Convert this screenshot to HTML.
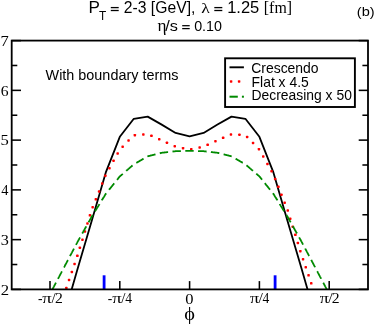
<!DOCTYPE html>
<html><head><meta charset="utf-8"><style>
html,body{margin:0;padding:0;background:#fff;}
body{width:374px;height:325px;overflow:hidden;}
svg{display:block;will-change:transform;}
text{font-kerning:none;}
.sans{font-family:"Liberation Sans",sans-serif;}
.serif{font-family:"Liberation Serif",serif;}
</style></head><body>
<svg width="374" height="325" viewBox="0 0 374 325">
<rect width="374" height="325" fill="#fff"/>
<defs><clipPath id="c"><rect x="11.7" y="40.6" width="356.3" height="248.79999999999998"/></clipPath></defs>
<g clip-path="url(#c)" fill="none" stroke-linejoin="round">
<polyline points="64.0,316.0 77.9,267.8 91.9,220.2 105.8,172.4 119.8,136.8 133.8,118.8 147.7,116.6 161.7,124.6 175.6,132.9 189.6,136.3 203.6,132.9 217.5,124.6 231.5,116.6 245.4,118.8 259.4,136.8 273.4,172.4 287.3,220.2 301.3,267.8 315.2,316.0" stroke="#000" stroke-width="1.8"/>
<g fill="#ff0000"><rect x="55.1" y="299.7" width="2.5" height="2.5" rx="0.7"/><rect x="61.8" y="294.5" width="2.5" height="2.5" rx="0.7"/><rect x="65.1" y="286.8" width="2.5" height="2.5" rx="0.7"/><rect x="67.8" y="278.8" width="2.5" height="2.5" rx="0.7"/><rect x="70.6" y="270.7" width="2.5" height="2.5" rx="0.7"/><rect x="73.3" y="262.7" width="2.5" height="2.5" rx="0.7"/><rect x="76.1" y="254.6" width="2.5" height="2.5" rx="0.7"/><rect x="78.6" y="246.5" width="2.5" height="2.5" rx="0.7"/><rect x="81.2" y="238.4" width="2.5" height="2.5" rx="0.7"/><rect x="83.7" y="230.3" width="2.5" height="2.5" rx="0.7"/><rect x="86.2" y="222.2" width="2.5" height="2.5" rx="0.7"/><rect x="88.7" y="214.1" width="2.5" height="2.5" rx="0.7"/><rect x="91.4" y="206.0" width="2.5" height="2.5" rx="0.7"/><rect x="94.6" y="198.1" width="2.5" height="2.5" rx="0.7"/><rect x="97.8" y="190.2" width="2.5" height="2.5" rx="0.7"/><rect x="101.0" y="182.3" width="2.5" height="2.5" rx="0.7"/><rect x="104.1" y="174.5" width="2.5" height="2.5" rx="0.7"/><rect x="108.2" y="167.0" width="2.5" height="2.5" rx="0.7"/><rect x="112.3" y="159.5" width="2.5" height="2.5" rx="0.7"/><rect x="116.4" y="152.2" width="2.5" height="2.5" rx="0.7"/><rect x="121.4" y="145.4" width="2.5" height="2.5" rx="0.7"/><rect x="127.3" y="139.3" width="2.5" height="2.5" rx="0.7"/><rect x="133.6" y="133.9" width="2.5" height="2.5" rx="0.7"/><rect x="142.1" y="133.3" width="2.5" height="2.5" rx="0.7"/><rect x="150.2" y="134.6" width="2.5" height="2.5" rx="0.7"/><rect x="158.0" y="138.0" width="2.5" height="2.5" rx="0.7"/><rect x="165.7" y="141.5" width="2.5" height="2.5" rx="0.7"/><rect x="173.5" y="145.0" width="2.5" height="2.5" rx="0.7"/><rect x="181.8" y="146.9" width="2.5" height="2.5" rx="0.7"/><rect x="190.0" y="147.9" width="2.5" height="2.5" rx="0.7"/><rect x="198.4" y="146.2" width="2.5" height="2.5" rx="0.7"/><rect x="206.4" y="143.6" width="2.5" height="2.5" rx="0.7"/><rect x="214.2" y="140.0" width="2.5" height="2.5" rx="0.7"/><rect x="221.9" y="136.6" width="2.5" height="2.5" rx="0.7"/><rect x="229.7" y="133.2" width="2.5" height="2.5" rx="0.7"/><rect x="238.2" y="133.5" width="2.5" height="2.5" rx="0.7"/><rect x="245.9" y="135.7" width="2.5" height="2.5" rx="0.7"/><rect x="251.8" y="141.8" width="2.5" height="2.5" rx="0.7"/><rect x="257.7" y="147.9" width="2.5" height="2.5" rx="0.7"/><rect x="262.0" y="155.3" width="2.5" height="2.5" rx="0.7"/><rect x="266.2" y="162.7" width="2.5" height="2.5" rx="0.7"/><rect x="270.3" y="170.0" width="2.5" height="2.5" rx="0.7"/><rect x="273.9" y="177.7" width="2.5" height="2.5" rx="0.7"/><rect x="277.1" y="185.6" width="2.5" height="2.5" rx="0.7"/><rect x="280.2" y="193.5" width="2.5" height="2.5" rx="0.7"/><rect x="283.4" y="201.4" width="2.5" height="2.5" rx="0.7"/><rect x="286.5" y="209.3" width="2.5" height="2.5" rx="0.7"/><rect x="289.0" y="217.4" width="2.5" height="2.5" rx="0.7"/><rect x="291.5" y="225.5" width="2.5" height="2.5" rx="0.7"/><rect x="294.1" y="233.6" width="2.5" height="2.5" rx="0.7"/><rect x="296.6" y="241.8" width="2.5" height="2.5" rx="0.7"/><rect x="299.1" y="249.9" width="2.5" height="2.5" rx="0.7"/><rect x="301.8" y="258.0" width="2.5" height="2.5" rx="0.7"/><rect x="304.5" y="266.0" width="2.5" height="2.5" rx="0.7"/><rect x="307.3" y="274.1" width="2.5" height="2.5" rx="0.7"/><rect x="310.0" y="282.1" width="2.5" height="2.5" rx="0.7"/><rect x="312.8" y="290.2" width="2.5" height="2.5" rx="0.7"/><rect x="317.7" y="296.7" width="2.5" height="2.5" rx="0.7"/><rect x="324.3" y="301.9" width="2.5" height="2.5" rx="0.7"/></g>
<path d="M36.0,320.5 L36.3,320.1 L36.5,319.6 L36.7,319.2 L37.0,318.7 L37.2,318.3 L37.4,317.8 L37.7,317.4 L37.9,317.0 L38.0,316.9 M40.1,312.9 L40.3,312.4 L40.5,312.0 L40.8,311.5 L41.0,311.1 L41.2,310.7 L41.5,310.2 L41.7,309.8 L41.9,309.3 L42.2,308.9 L42.4,308.4 L42.6,308.0 L42.9,307.6 L43.1,307.1 L43.3,306.7 L43.6,306.2 L43.8,305.8 L43.9,305.5 M46.0,301.5 L46.3,301.1 L46.5,300.6 L46.7,300.2 L47.0,299.8 L47.2,299.3 L47.4,298.9 L47.7,298.4 L47.9,298.0 L48.1,297.5 L48.4,297.1 L48.6,296.7 L48.8,296.2 L49.1,295.8 L49.3,295.3 L49.5,294.9 L49.8,294.4 L50.0,294.1 M52.0,290.2 L52.2,289.7 L52.5,289.3 L52.7,288.9 L52.9,288.4 L53.2,288.0 L53.4,287.5 L53.6,287.1 L53.9,286.6 L54.1,286.2 L54.3,285.8 L54.6,285.3 L54.8,284.9 L55.0,284.4 L55.3,284.0 L55.5,283.5 L55.7,283.1 L55.9,282.7 M58.0,278.8 L58.2,278.4 L58.5,278.0 L58.7,277.5 L58.9,277.1 L59.2,276.6 L59.4,276.2 L59.6,275.7 L59.9,275.3 L60.1,274.9 L60.3,274.4 L60.6,274.0 L60.8,273.5 L61.0,273.1 L61.3,272.6 L61.5,272.2 L61.7,271.8 L61.9,271.4 M64.0,267.5 L64.2,267.1 L64.4,266.6 L64.7,266.2 L64.9,265.7 L65.1,265.3 L65.4,264.8 L65.6,264.4 L65.8,264.0 L66.1,263.5 L66.3,263.1 L66.5,262.6 L66.8,262.2 L67.0,261.7 L67.3,261.3 L67.5,260.9 L67.7,260.4 L67.9,260.1 M70.0,256.2 L70.2,255.7 L70.4,255.3 L70.7,254.8 L70.9,254.4 L71.2,254.0 L71.4,253.5 L71.6,253.1 L71.9,252.6 L72.1,252.2 L72.3,251.7 L72.6,251.3 L72.8,250.9 L73.0,250.4 L73.3,250.0 L73.5,249.5 L73.7,249.1 L73.9,248.7 M76.0,244.8 L76.2,244.4 L76.5,243.9 L76.7,243.5 L76.9,243.1 L77.2,242.6 L77.4,242.2 L77.6,241.7 L77.9,241.3 L78.1,240.9 L78.4,240.4 L78.6,240.0 L78.9,239.5 L79.1,239.1 L79.3,238.7 L79.6,238.2 L79.8,237.8 L80.0,237.4 M82.2,233.5 L82.5,233.1 L82.7,232.6 L83.0,232.2 L83.2,231.8 L83.5,231.3 L83.7,230.9 L84.0,230.5 L84.2,230.0 L84.5,229.6 L84.7,229.1 L84.9,228.7 L85.2,228.3 L85.4,227.8 L85.7,227.4 L85.9,227.0 L86.2,226.5 L86.3,226.3 M88.5,222.3 L88.8,221.9 L89.0,221.5 L89.3,221.0 L89.5,220.6 L89.8,220.2 L90.0,219.7 L90.3,219.3 L90.5,218.8 L90.7,218.4 L91.0,218.0 L91.2,217.5 L91.5,217.1 L91.7,216.7 L92.0,216.2 L92.2,215.8 L92.5,215.4 L92.7,215.0 M95.0,211.3 L95.3,210.9 L95.6,210.4 L95.8,210.0 L96.1,209.6 L96.4,209.2 L96.6,208.7 L96.9,208.3 L97.1,207.9 L97.4,207.4 L97.7,207.0 L97.9,206.6 L98.2,206.2 L98.5,205.7 L98.7,205.3 L99.0,204.9 L99.3,204.5 L99.5,204.1 M101.8,200.4 L102.0,199.9 L102.3,199.5 L102.6,199.1 L102.8,198.7 L103.1,198.2 L103.4,197.8 L103.6,197.4 L103.9,197.0 L104.2,196.5 L104.4,196.1 L104.7,195.7 L104.9,195.2 L105.2,194.8 L105.5,194.4 L105.7,194.0 L106.0,193.6 L106.3,193.3 M109.0,189.8 L109.3,189.4 L109.7,189.0 L110.0,188.7 L110.3,188.3 L110.6,187.9 L110.9,187.5 L111.2,187.1 L111.5,186.7 L111.8,186.3 L112.2,185.9 L112.5,185.5 L112.8,185.1 L113.1,184.7 L113.4,184.4 L113.7,184.0 L114.0,183.6 L114.3,183.3 M117.0,179.8 L117.4,179.4 L117.7,179.1 L118.0,178.7 L118.3,178.3 L118.6,177.9 L118.9,177.5 L119.2,177.1 L119.5,176.7 L119.9,176.3 L120.3,176.0 L120.6,175.7 L121.0,175.4 L121.4,175.0 L121.8,174.7 L122.2,174.4 L122.5,174.1 L122.8,173.8 M126.2,170.9 L126.6,170.5 L127.0,170.2 L127.4,169.9 L127.8,169.6 L128.1,169.2 L128.5,168.9 L128.9,168.6 L129.3,168.2 L129.7,167.9 L130.0,167.6 L130.4,167.3 L130.8,166.9 L131.2,166.6 L131.6,166.3 L131.9,166.0 L132.3,165.6 L132.6,165.4 M136.3,162.9 L136.7,162.7 L137.1,162.4 L137.6,162.2 L138.0,161.9 L138.4,161.7 L138.9,161.4 L139.3,161.2 L139.7,160.9 L140.2,160.7 L140.6,160.4 L141.0,160.2 L141.5,159.9 L141.9,159.7 L142.3,159.4 L142.8,159.2 L143.2,158.9 L143.6,158.7 M147.4,156.5 L147.8,156.3 L148.3,156.2 L148.8,156.0 L149.3,155.9 L149.8,155.8 L150.3,155.7 L150.7,155.5 L151.2,155.4 L151.7,155.3 L152.2,155.2 L152.7,155.1 L153.2,154.9 L153.7,154.8 L154.2,154.7 L154.7,154.6 L155.1,154.4 L155.5,154.3 M159.8,153.3 L160.3,153.1 L160.8,153.0 L161.3,152.9 L161.8,152.8 L162.3,152.7 L162.8,152.7 L163.3,152.6 L163.8,152.6 L164.3,152.5 L164.8,152.4 L165.3,152.4 L165.8,152.3 L166.3,152.3 L166.8,152.2 L167.3,152.2 L167.8,152.1 L168.1,152.1 M172.5,151.6 L173.0,151.5 L173.5,151.4 L174.0,151.4 L174.5,151.3 L175.0,151.3 L175.5,151.2 L176.0,151.2 L176.5,151.2 L177.0,151.2 L177.5,151.1 L178.1,151.1 L178.6,151.1 L179.1,151.1 L179.6,151.1 L180.1,151.1 L180.6,151.1 L180.9,151.1 M185.3,150.9 L185.8,150.9 L186.3,150.9 L186.8,150.9 L187.3,150.9 L187.8,150.9 L188.3,150.8 L188.8,150.8 L189.3,150.8 L189.8,150.8 L190.3,150.8 L190.8,150.8 L191.3,150.8 L191.8,150.9 L192.3,150.9 L192.8,150.9 L193.3,150.9 L193.7,150.9 M198.1,151.0 L198.6,151.1 L199.1,151.1 L199.6,151.1 L200.1,151.1 L200.6,151.1 L201.1,151.1 L201.7,151.1 L202.2,151.2 L202.7,151.2 L203.2,151.2 L203.7,151.2 L204.2,151.3 L204.7,151.3 L205.2,151.4 L205.7,151.4 L206.2,151.5 L206.6,151.5 M210.9,152.0 L211.4,152.1 L211.9,152.2 L212.4,152.2 L212.9,152.3 L213.4,152.3 L213.9,152.4 L214.4,152.4 L214.9,152.5 L215.4,152.6 L215.9,152.6 L216.4,152.7 L216.9,152.7 L217.4,152.8 L217.9,152.9 L218.4,153.0 L218.9,153.1 L219.3,153.2 M223.6,154.3 L224.1,154.4 L224.5,154.6 L225.0,154.7 L225.5,154.8 L226.0,154.9 L226.5,155.1 L227.0,155.2 L227.5,155.3 L228.0,155.4 L228.5,155.5 L228.9,155.7 L229.4,155.8 L229.9,155.9 L230.4,156.0 L230.9,156.2 L231.4,156.3 L231.7,156.4 M235.6,158.7 L236.0,158.9 L236.4,159.2 L236.9,159.4 L237.3,159.7 L237.7,159.9 L238.2,160.2 L238.6,160.4 L239.0,160.7 L239.5,160.9 L239.9,161.2 L240.3,161.4 L240.8,161.7 L241.2,161.9 L241.6,162.2 L242.1,162.4 L242.5,162.7 L242.8,162.8 M246.5,165.3 L246.9,165.6 L247.3,166.0 L247.6,166.3 L248.0,166.6 L248.4,166.9 L248.8,167.3 L249.2,167.6 L249.5,167.9 L249.9,168.2 L250.3,168.6 L250.7,168.9 L251.1,169.2 L251.4,169.6 L251.8,169.9 L252.2,170.2 L252.6,170.5 L252.9,170.8 M256.2,173.7 L256.6,174.0 L257.0,174.3 L257.4,174.6 L257.7,175.0 L258.1,175.3 L258.5,175.6 L258.9,175.9 L259.2,176.3 L259.6,176.6 L259.9,177.0 L260.2,177.4 L260.5,177.8 L260.8,178.2 L261.2,178.6 L261.5,179.0 L261.8,179.4 L262.0,179.7 M264.8,183.1 L265.1,183.5 L265.4,183.9 L265.7,184.3 L266.0,184.7 L266.3,185.1 L266.7,185.5 L267.0,185.8 L267.3,186.2 L267.6,186.6 L267.9,187.0 L268.2,187.4 L268.5,187.8 L268.9,188.2 L269.2,188.6 L269.5,189.0 L269.8,189.4 L270.0,189.7 M272.9,193.2 L273.2,193.6 L273.5,194.0 L273.7,194.4 L274.0,194.8 L274.3,195.2 L274.5,195.7 L274.8,196.1 L275.0,196.5 L275.3,197.0 L275.6,197.4 L275.8,197.8 L276.1,198.2 L276.4,198.7 L276.6,199.1 L276.9,199.5 L277.2,199.9 L277.4,200.3 M279.7,204.0 L279.9,204.5 L280.2,204.9 L280.5,205.3 L280.7,205.7 L281.0,206.2 L281.3,206.6 L281.5,207.0 L281.8,207.4 L282.1,207.9 L282.3,208.3 L282.6,208.7 L282.8,209.2 L283.1,209.6 L283.4,210.0 L283.6,210.4 L283.9,210.9 L284.1,211.2 M286.4,215.0 L286.7,215.4 L287.0,215.8 L287.2,216.2 L287.5,216.7 L287.7,217.1 L288.0,217.5 L288.2,218.0 L288.5,218.4 L288.7,218.8 L288.9,219.3 L289.2,219.7 L289.4,220.2 L289.7,220.6 L289.9,221.0 L290.2,221.5 L290.4,221.9 L290.6,222.3 M292.8,226.1 L293.0,226.5 L293.3,227.0 L293.5,227.4 L293.8,227.8 L294.0,228.3 L294.3,228.7 L294.5,229.1 L294.7,229.6 L295.0,230.0 L295.2,230.5 L295.5,230.9 L295.7,231.3 L296.0,231.8 L296.2,232.2 L296.5,232.6 L296.7,233.1 L296.9,233.4 M299.1,237.3 L299.3,237.7 L299.6,238.1 L299.8,238.6 L300.1,239.0 L300.3,239.5 L300.5,239.9 L300.8,240.3 L301.0,240.8 L301.3,241.2 L301.5,241.6 L301.8,242.1 L302.0,242.5 L302.2,243.0 L302.5,243.4 L302.7,243.9 L302.9,244.3 L303.1,244.7 M305.2,248.5 L305.4,249.0 L305.7,249.4 L305.9,249.9 L306.1,250.3 L306.4,250.8 L306.6,251.2 L306.8,251.6 L307.1,252.1 L307.3,252.5 L307.5,253.0 L307.8,253.4 L308.0,253.9 L308.2,254.3 L308.5,254.7 L308.7,255.2 L308.9,255.6 L309.1,256.0 M311.2,259.9 L311.4,260.3 L311.7,260.8 L311.9,261.2 L312.1,261.7 L312.4,262.1 L312.6,262.5 L312.8,263.0 L313.1,263.4 L313.3,263.9 L313.5,264.3 L313.8,264.8 L314.0,265.2 L314.3,265.6 L314.5,266.1 L314.7,266.5 L315.0,267.0 L315.1,267.3 M317.2,271.3 L317.5,271.8 L317.7,272.2 L317.9,272.6 L318.2,273.1 L318.4,273.5 L318.6,274.0 L318.9,274.4 L319.1,274.9 L319.3,275.3 L319.6,275.7 L319.8,276.2 L320.0,276.6 L320.3,277.1 L320.5,277.5 L320.7,278.0 L321.0,278.4 L321.1,278.7 M323.2,282.7 L323.5,283.1 L323.7,283.5 L323.9,284.0 L324.2,284.4 L324.4,284.9 L324.6,285.3 L324.9,285.8 L325.1,286.2 L325.3,286.6 L325.6,287.1 L325.8,287.5 L326.0,288.0 L326.3,288.4 L326.5,288.9 L326.7,289.3 L327.0,289.7 L327.1,290.1 M329.2,294.0 L329.4,294.4 L329.7,294.9 L329.9,295.3 L330.1,295.8 L330.4,296.2 L330.6,296.7 L330.8,297.1 L331.1,297.5 L331.3,298.0 L331.5,298.4 L331.8,298.9 L332.0,299.3 L332.2,299.8 L332.5,300.2 L332.7,300.6 L332.9,301.1 L333.1,301.4 M335.2,305.3 L335.4,305.8 L335.6,306.2 L335.9,306.7 L336.1,307.1 L336.3,307.6 L336.6,308.0 L336.8,308.4 L337.0,308.9 L337.3,309.3 L337.5,309.8 L337.7,310.2 L338.0,310.7 L338.2,311.1 L338.4,311.5 L338.7,312.0 L338.9,312.4 L339.1,312.8 M341.2,316.7 L341.4,317.1 L341.6,317.6 L341.9,318.0 L342.1,318.5 L342.3,318.9 L342.6,319.3 L342.8,319.8 L343.0,320.2 L343.2,320.5 " stroke="#008a00" stroke-width="1.8"/>
</g>
<g stroke="#0000ff" stroke-width="2.8"><line x1="104.1" y1="275.3" x2="104.1" y2="289.4"/><line x1="275.1" y1="275.3" x2="275.1" y2="289.4"/></g>
<rect x="11.7" y="40.6" width="356.3" height="248.79999999999998" stroke="#000" stroke-width="1.8" fill="none"/>
<g stroke="#000" stroke-width="1.55" fill="none">
<line x1="11.7" y1="289.40" x2="21.0" y2="289.40"/><line x1="368.0" y1="289.40" x2="358.7" y2="289.40"/><line x1="11.7" y1="264.52" x2="17.299999999999997" y2="264.52"/><line x1="368.0" y1="264.52" x2="362.4" y2="264.52"/><line x1="11.7" y1="239.64" x2="21.0" y2="239.64"/><line x1="368.0" y1="239.64" x2="358.7" y2="239.64"/><line x1="11.7" y1="214.76" x2="17.299999999999997" y2="214.76"/><line x1="368.0" y1="214.76" x2="362.4" y2="214.76"/><line x1="11.7" y1="189.88" x2="21.0" y2="189.88"/><line x1="368.0" y1="189.88" x2="358.7" y2="189.88"/><line x1="11.7" y1="165.00" x2="17.299999999999997" y2="165.00"/><line x1="368.0" y1="165.00" x2="362.4" y2="165.00"/><line x1="11.7" y1="140.12" x2="21.0" y2="140.12"/><line x1="368.0" y1="140.12" x2="358.7" y2="140.12"/><line x1="11.7" y1="115.24" x2="17.299999999999997" y2="115.24"/><line x1="368.0" y1="115.24" x2="362.4" y2="115.24"/><line x1="11.7" y1="90.36" x2="21.0" y2="90.36"/><line x1="368.0" y1="90.36" x2="358.7" y2="90.36"/><line x1="11.7" y1="65.48" x2="17.299999999999997" y2="65.48"/><line x1="368.0" y1="65.48" x2="362.4" y2="65.48"/><line x1="11.7" y1="40.60" x2="21.0" y2="40.60"/><line x1="368.0" y1="40.60" x2="358.7" y2="40.60"/><line x1="50.00" y1="289.4" x2="50.00" y2="281.09999999999997"/><line x1="119.80" y1="289.4" x2="119.80" y2="281.09999999999997"/><line x1="189.60" y1="289.4" x2="189.60" y2="281.09999999999997"/><line x1="259.40" y1="289.4" x2="259.40" y2="281.09999999999997"/><line x1="329.20" y1="289.4" x2="329.20" y2="281.09999999999997"/>
</g>
<g fill="#000"><text class="serif" font-size="15.4" transform="translate(0.77,294.70) scale(1.0853,1)" >2</text><text class="serif" font-size="15.4" transform="translate(0.72,244.94) scale(1.0532,1)" >3</text><text class="serif" font-size="15.4" transform="translate(1.22,195.18) scale(0.9359,1)" >4</text><text class="serif" font-size="15.4" transform="translate(0.53,145.42) scale(1.0800,1)" >5</text><text class="serif" font-size="15.4" transform="translate(0.83,95.66) scale(1.0183,1)" >6</text><text class="serif" font-size="15.4" transform="translate(0.41,45.90) scale(1.0735,1)" >7</text><text class="serif" font-size="14.2" transform="translate(37.90,303.30) scale(0.9489,1)" >-</text><text class="serif" font-size="14.2" transform="translate(42.34,303.30) scale(1.3165,1)" >π</text><text class="serif" font-size="14.2" transform="translate(51.50,303.30) scale(1.0646,1)" >/</text><text class="serif" font-size="14.2" transform="translate(54.91,303.30) scale(1.1067,1)" >2</text><text class="serif" font-size="14.2" transform="translate(107.70,303.30) scale(0.9489,1)" >-</text><text class="serif" font-size="14.2" transform="translate(112.14,303.30) scale(1.3165,1)" >π</text><text class="serif" font-size="14.2" transform="translate(121.30,303.30) scale(1.0646,1)" >/</text><text class="serif" font-size="14.2" transform="translate(125.14,303.30) scale(0.9544,1)" >4</text><text class="serif" font-size="14.2" transform="translate(249.95,303.30) scale(1.2721,1)" >π</text><text class="serif" font-size="14.2" transform="translate(258.50,303.30) scale(1.1153,1)" >/</text><text class="serif" font-size="14.2" transform="translate(262.44,303.30) scale(0.9544,1)" >4</text><text class="serif" font-size="14.2" transform="translate(319.75,303.30) scale(1.2721,1)" >π</text><text class="serif" font-size="14.2" transform="translate(328.30,303.30) scale(1.1153,1)" >/</text><text class="serif" font-size="14.2" transform="translate(331.81,303.30) scale(1.1067,1)" >2</text><text class="serif" font-size="15" transform="translate(185.37,303.65) scale(1.1011,1)" >0</text><text class="sans" font-size="16" transform="translate(88.50,13.10) scale(1.0686,1)" >P</text><text class="sans" font-size="12.2" transform="translate(99.03,19.85) scale(0.9713,1)" >T</text><rect x="110.8" y="6.95" width="7.90" height="1.3"/><rect x="110.8" y="9.85" width="7.90" height="1.3"/><text class="sans" font-size="16" transform="translate(123.71,13.10) scale(0.9833,1)" >2-3 [GeV],</text><text class="serif" font-size="14.2" transform="translate(201.23,13.10) scale(1.2433,1)" >λ</text><rect x="214.3" y="6.95" width="8.00" height="1.3"/><rect x="214.3" y="9.85" width="8.00" height="1.3"/><text class="sans" font-size="16" transform="translate(227.14,13.10) scale(1.0325,1)" >1.25</text><text class="serif" font-size="15.8" transform="translate(263.82,13.10) scale(1.0066,1)" >[fm]</text><text class="serif" font-size="16" transform="translate(157.43,30.90) scale(1.0712,1)" >η</text><text class="sans" font-size="14" transform="translate(165.30,30.90) scale(1.1653,1)" >/s</text><rect x="182.2" y="25.07" width="7.50" height="1.25"/><rect x="182.2" y="27.98" width="7.50" height="1.25"/><text class="sans" font-size="14" transform="translate(194.14,30.90) scale(1.0209,1)" >0.10</text><text class="sans" font-size="13" transform="translate(356.79,16.00) scale(1.0000,1)" textLength="17.8" lengthAdjust="spacingAndGlyphs">(b)</text><text class="sans" font-size="14.3" transform="translate(45.54,79.80) scale(1.0080,1)" >With boundary terms</text><text class="sans" font-size="14.5" transform="translate(251.19,72.70) scale(0.9625,1)" >Crescendo</text><text class="sans" font-size="14.5" transform="translate(251.56,86.50) scale(0.9596,1)" >Flat x 4.5</text><text class="sans" font-size="14.5" transform="translate(251.56,100.40) scale(0.9580,1)" >Decreasing x 50</text><text class="serif" font-size="18.5" transform="translate(184.22,319.60) scale(1.0976,1)" >ϕ</text></g>
<rect x="225.1" y="58.3" width="129.8" height="48.7" fill="none" stroke="#000" stroke-width="1.9"/>
<line x1="229.5" y1="67.3" x2="243.9" y2="67.3" stroke="#000" stroke-width="1.9"/>
<g fill="#ff0000"><rect x="229.85" y="80.15" width="2.5" height="2.5" rx="0.7"/><rect x="237.85" y="80.15" width="2.5" height="2.5" rx="0.7"/></g>
<g stroke="#008a00" stroke-width="2"><line x1="229.5" y1="96.7" x2="237.8" y2="96.7"/><line x1="241.9" y1="96.7" x2="243.9" y2="96.7"/></g>
</svg>
</body></html>
